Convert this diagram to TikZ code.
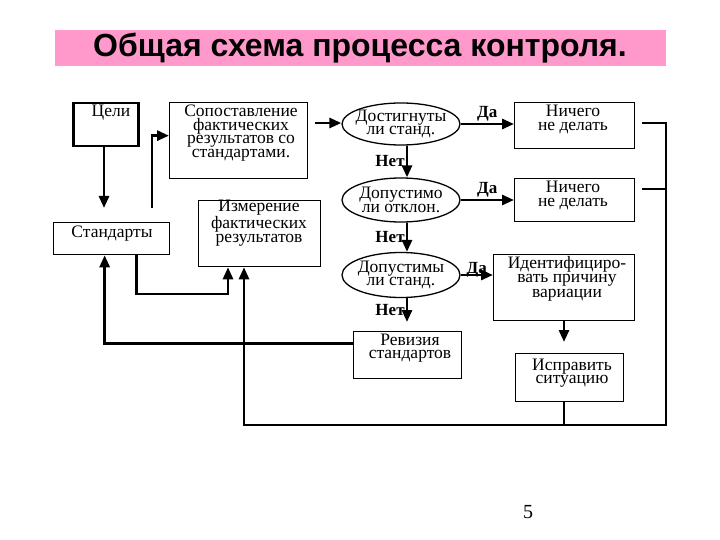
\documentclass[tikz,border=0pt]{standalone}
\usepackage{fontspec}
\setmainfont{Liberation Serif}
\newfontfamily\headfont{Liberation Sans}
\usetikzlibrary{arrows.meta,shapes.geometric}
\definecolor{headpink}{HTML}{FF99CC}

\begin{document}
\begin{tikzpicture}[x=1pt,y=-1pt,
  box/.style={draw,line width=1.3pt,anchor=north west,inner sep=0pt},
  txt/.style={align=center,inner sep=0pt,anchor=base,font=\fontsize{17.5}{13.5}\selectfont},
  oval/.style={draw,ellipse,line width=1.3pt,minimum width=118pt,minimum height=44pt,
    inner xsep=-6pt,inner ysep=-4pt,align=center,font=\fontsize{17.5}{13.5}\selectfont},
  link/.style={line width=2.8pt},
  arr/.style={link,-{Triangle[length=12pt,width=10pt]}},
  ans/.style={inner sep=1pt,font=\bfseries\fontsize{17}{17}\selectfont}]
\useasboundingbox (0,0) rectangle (720,540);

% title
\fill[headpink] (55,30) rectangle (666,66);
\node[font=\headfont\bfseries\fontsize{32}{32}\selectfont] (title) at (360,48)
  {Общая схема процесса контроля.};

% boxes
\node[box,line width=2.5pt,minimum width=65pt,minimum height=43pt] (goals) at (72,102) {};
\node[box,minimum width=116pt,minimum height=32pt] (std)  at (53,222)  {};
\node[box,minimum width=138pt,minimum height=76pt] (cmp)  at (169,102) {};
\node[box,minimum width=122pt,minimum height=66pt] (meas) at (198,200) {};
\node[box,minimum width=120pt,minimum height=46pt] (nil1) at (514,102) {};
\node[box,minimum width=120pt,minimum height=43pt] (nil2) at (514,178) {};
\node[box,minimum width=141pt,minimum height=66pt] (ident) at (493,254) {};
\node[box,minimum width=108pt,minimum height=48pt] (fix)  at (515,353) {};
\node[box,minimum width=108pt,minimum height=47pt] (rev)  at (353,331) {};

% texts, set on the baseline of their last line
\node[txt] at (111,117)   {Цели};
\node[txt] at (112,237)   {Стандарты};
\node[txt] at (241,157.5) {Сопоставление\\фактических\\результатов со\\стандартами.};
\node[txt] at (259,242)   {Измерение\\фактических\\результатов};
\node[txt] at (573,130.5) {Ничего\\не делать};
\node[txt] at (573,206.5) {Ничего\\не делать};
\node[txt,font=\fontsize{17.5}{14.5}\selectfont] at (567,297) {Идентифициро-\\вать причину\\вариации};
\node[txt] at (572,383.5) {Исправить\\ситуацию};
\node[txt] at (410,358.5) {Ревизия\\стандартов};

% decisions
\node[oval,minimum height=42pt] (e1) at (401,124) {Достигнуты\\ли станд.};
\node[oval] (e2) at (401,200) {Допустимо\\ли отклон.};
\node[oval,minimum height=45pt] (e3) at (401,275) {Допустимы\\ли станд.};

% free ends
\coordinate (gtip) at (104,208);
\coordinate (up)   at (152,208);
\coordinate (cout) at (315,123);
\coordinate (rtip) at (407,322);
\coordinate (ftip) at (564,342);
\coordinate (loop) at (228,294);
\coordinate (base) at (244,425);
\coordinate (corner) at (666,425);
\coordinate (n1out) at (642,123);
\coordinate (n2out) at (642,189);

% connectors
\draw[arr] (gtip |- goals.south) -- (gtip);
\draw[arr] (up) |- ([yshift=5pt]cmp.west);
\draw[arr] (cout) -- (cout -| e1.west);
\draw[arr] (e1.east) -- (e1.east -| nil1.west) node[ans,midway,above] {Да};
\draw[arr] (e2.east) -- (e2.east -| nil2.west) node[ans,midway,above] {Да};
\draw[arr] (e3.east) -- (e3.east -| ident.west) node[ans,midway,above,yshift=-5pt] {Да};
\draw[arr] ([xshift=6pt]e1.south) -- ([xshift=6pt]e2.north) node[ans,midway,left] {Нет};
\draw[arr] ([xshift=6pt]e2.south) -- ([xshift=6pt]e3.north) node[ans,midway,left] {Нет};
\draw[arr] ([xshift=6pt]e3.south) -- (rtip) node[ans,midway,left] {Нет};
\draw[arr] (ident.south -| ftip) -- (ftip);
\draw[arr] ([xshift=25pt]std.south) |- (loop) -- (loop |- meas.south);
\draw[arr] ([yshift=12pt]rev.west) -| ([xshift=-7pt]std.south);
\draw[arr] (fix.south -| ftip) |- (base) -- (base |- meas.south);
\draw[link] (n1out) -| (corner) -- (base);
\draw[link] (n2out) -- (n2out -| corner);

% page number
\node[anchor=base,inner sep=0pt,font=\fontsize{20}{20}\selectfont] (page) at (528,518) {5};
\end{tikzpicture}
\end{document}
